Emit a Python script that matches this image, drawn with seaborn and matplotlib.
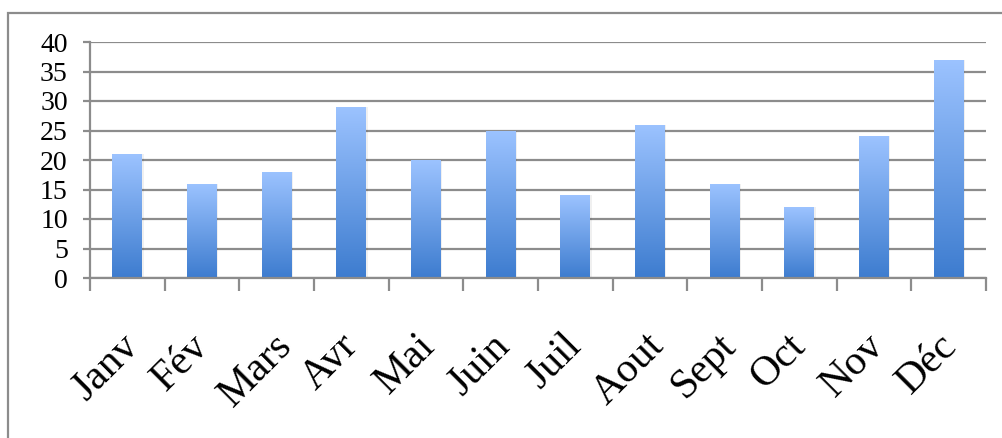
import numpy as np
import pandas as pd
import matplotlib
matplotlib.use("Agg")
import matplotlib.pyplot as plt
from matplotlib.colors import LinearSegmentedColormap
from matplotlib.patches import Rectangle
from matplotlib.transforms import ScaledTranslation
import seaborn as sns

# monthly values
months = ["Janv", "Fév", "Mars", "Avr", "Mai", "Juin",
          "Juil", "Aout", "Sept", "Oct", "Nov", "Déc"]
values = [21, 16, 18, 29, 20, 25, 14, 26, 16, 12, 24, 37]
y_ticks = [0, 5, 10, 15, 20, 25, 30, 35, 40]

df = pd.DataFrame({"mois": months, "valeur": values})

sns.set_theme(style="white")
plt.rcParams["font.family"] = ["Liberation Serif", "DejaVu Serif"]

fig = plt.figure(figsize=(10.03, 4.38), dpi=100)
ax = fig.add_axes([90 / 1003, 1 - 278 / 438, 896 / 1003, 236 / 438])

sns.barplot(data=df, x="mois", y="valeur", width=0.4, ax=ax,
            color="#6a9ee6", saturation=1)

# Excel-like vertical gradient on each bar
grad = LinearSegmentedColormap.from_list("bleu", ["#3d7ccf", "#9cc3ff"])
g = np.linspace(0, 1, 256).reshape(-1, 1)
for p in ax.patches:
    x0, y0 = p.get_x(), p.get_y()
    w, h = p.get_width(), p.get_height()
    # soft shadow
    ax.add_patch(Rectangle((x0 + 0.02, y0), w, h, facecolor="#000000",
                           alpha=0.06, edgecolor="none", zorder=1.5))
    im = ax.imshow(g, cmap=grad, aspect="auto", origin="lower",
                   extent=[x0, x0 + w, y0, y0 + h], zorder=2)
    im.set_clip_path(p)
    p.set_facecolor("none")
    p.set_edgecolor("none")

ax.set_xlim(-0.5, len(months) - 0.5)
ax.set_ylim(0, 40)
ax.set_yticks(y_ticks)
ax.yaxis.grid(True, color="#8c8c8c", linewidth=1.6)
ax.set_axisbelow(True)
ax.set_xlabel("")
ax.set_ylabel("")

for side in ["top", "right"]:
    ax.spines[side].set_visible(False)
for side in ["left", "bottom"]:
    ax.spines[side].set_color("#8c8c8c")
    ax.spines[side].set_linewidth(1.6)

ax.tick_params(axis="y", left=True, length=5, width=1.6, color="#8c8c8c",
               labelsize=20, pad=11, labelcolor="black")
ax.set_xticks(np.arange(-0.5, len(months), 1.0), minor=True)
ax.tick_params(axis="x", which="minor", bottom=True, length=9, width=1.6,
               color="#8c8c8c")
ax.tick_params(axis="x", which="major", bottom=False, length=0, pad=35,
               labelsize=30, labelcolor="black")
ax.set_xticks(range(len(months)))
ax.set_xticklabels(months, rotation=45, ha="center", va="top")
shift = ScaledTranslation(-0.21, 0, fig.dpi_scale_trans)
for lab in ax.get_xticklabels():
    lab.set_transform(lab.get_transform() + shift)

# outer chart border
fig.add_artist(Rectangle((8 / 1003, -0.1), 1.2, 1 - 13 / 438 + 0.1,
                         transform=fig.transFigure, fill=False,
                         edgecolor="#8c8c8c", linewidth=1.6))

fig.savefig("out.png", dpi=100)
